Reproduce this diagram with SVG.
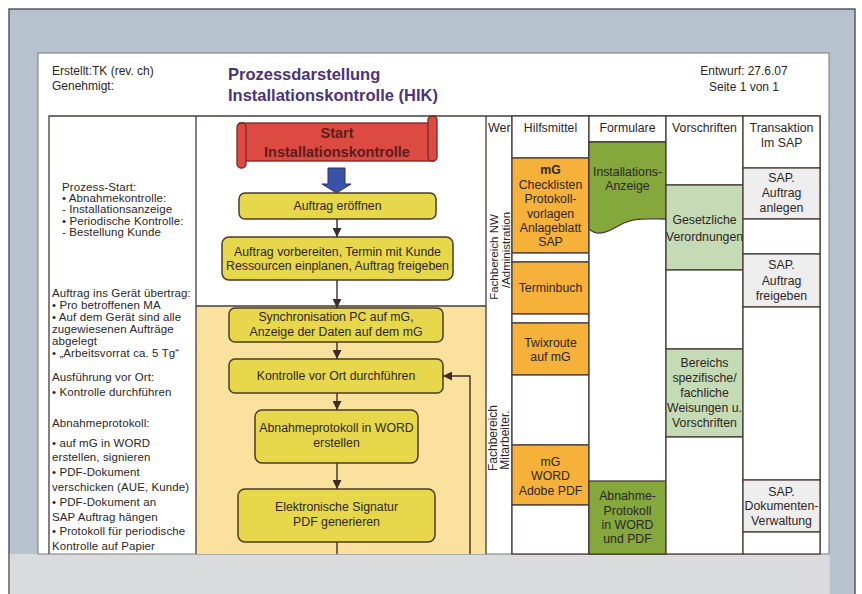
<svg xmlns="http://www.w3.org/2000/svg" width="862" height="594" viewBox="0 0 862 594">
<defs>
<marker id="ah" viewBox="0 0 10 10" refX="10" refY="5" markerWidth="9" markerHeight="9" markerUnits="userSpaceOnUse" orient="auto"><path d="M0,0 L10,5 L0,10 Z" fill="#3a2e2a"/></marker>
<style>
text{font-family:"Liberation Sans",Arial,sans-serif;fill:#2e2626}
.s12{font-size:12px}
.lt{font-size:11.5px;letter-spacing:0.1px}
.c{text-anchor:middle;font-size:12.3px}
.box{fill:#e6d84a;stroke:#4a3b28;stroke-width:1.5}
.cell{stroke:#4a3c38;stroke-width:1.3}
.wh{fill:#ffffff}
.or{fill:#f5b13a}
.gr{fill:#84a83c}
.lg{fill:#c5dbb5}
.gy{fill:#eeeeee}
.ln{stroke:#3a2e2a;stroke-width:1.4;fill:none}
.tl{stroke:#4a3c38;stroke-width:1.3;fill:none}
.rot{font-size:11.5px;text-anchor:middle}
</style>
</defs>
<!-- background frame -->
<rect x="0" y="0" width="862" height="594" fill="#ffffff"/>
<rect x="9" y="9" width="846" height="590" fill="#b6c3ce" stroke="#5a5a5a" stroke-width="1.5"/>
<rect x="9.8" y="554" width="820" height="40" fill="#d9dbdc"/>
<rect x="38" y="53" width="791" height="501" fill="#ffffff" stroke="#7a7a7a" stroke-width="1"/>

<!-- header -->
<g id="header">
<text class="s12" x="52" y="75">Erstellt:TK (rev. ch)</text>
<text class="s12" x="52" y="90">Genehmigt:</text>
<text x="228" y="80" style="font-size:16.5px;font-weight:bold;fill:#4b3478">Prozessdarstellung</text>
<text x="228" y="101" style="font-size:16.5px;font-weight:bold;fill:#4b3478">Installationskontrolle (HIK)</text>
<text class="s12" x="744" y="75" text-anchor="middle">Entwurf: 27.6.07</text>
<text class="s12" x="744" y="91" text-anchor="middle">Seite 1 von 1</text>
</g>

<!-- table frame -->
<g id="table">
<rect x="196" y="306" width="290" height="248" fill="#fbe19e"/>
<path class="tl" d="M49,554 V116 H820 V554 M196,116 V554 M486,116 V554 M512,116 V554 M196,306 H486"/>
</g>

<!-- left descriptions -->
<g id="left-text">
<text class="lt" x="62" y="191">Prozess-Start:</text>
<text class="lt" x="62" y="202">• Abnahmekontrolle:</text>
<text class="lt" x="62" y="213">- Installationsanzeige</text>
<text class="lt" x="62" y="225">• Periodische Kontrolle:</text>
<text class="lt" x="62" y="236">- Bestellung Kunde</text>
<text class="lt" x="52" y="297">Auftrag ins Gerät übertrag:</text>
<text class="lt" x="52" y="309">• Pro betroffenen MA</text>
<text class="lt" x="52" y="321">• Auf dem Gerät sind alle</text>
<text class="lt" x="52" y="333">zugewiesenen Aufträge</text>
<text class="lt" x="52" y="345">abgelegt</text>
<text class="lt" x="52" y="357">• „Arbeitsvorrat ca. 5 Tg“</text>
<text class="lt" x="52" y="381">Ausführung vor Ort:</text>
<text class="lt" x="52" y="396">• Kontrolle durchführen</text>
<text class="lt" x="52" y="427">Abnahmeprotokoll:</text>
<text class="lt" x="52" y="447">• auf mG in WORD</text>
<text class="lt" x="52" y="461">erstellen, signieren</text>
<text class="lt" x="52" y="476">• PDF-Dokument</text>
<text class="lt" x="52" y="491">verschicken (AUE, Kunde)</text>
<text class="lt" x="52" y="506">• PDF-Dokument an</text>
<text class="lt" x="52" y="521">SAP Auftrag hängen</text>
<text class="lt" x="52" y="535">• Protokoll für periodische</text>
<text class="lt" x="52" y="550">Kontrolle auf Papier</text>
</g>

<!-- flow nodes -->
<g id="start">
<rect x="240" y="123" width="194" height="38" fill="#dd4a42" stroke="#7a2424" stroke-width="1.3"/>
<rect x="428" y="116" width="9" height="45" rx="4" fill="#dd4a42" stroke="#7a2424" stroke-width="1.3"/>
<rect x="237" y="123" width="9" height="45" rx="4" fill="#dd4a42" stroke="#7a2424" stroke-width="1.3"/>
<text x="337" y="138" text-anchor="middle" style="font-size:14.5px;font-weight:bold;fill:#5c1d1d">Start</text>
<text x="337" y="157" text-anchor="middle" style="font-size:14.5px;font-weight:bold;fill:#5c1d1d">Installationskontrolle</text>
</g>
<g id="blue-arrow">
<polygon points="328,168 345,168 345,184 351,184 336.5,193 322,184 328,184" fill="#3a52a8" stroke="#2a3070" stroke-width="1"/>
</g>
<g id="n1">
<rect class="box" x="239" y="193" width="197" height="26" rx="6"/>
<text class="c" x="337.5" y="210">Auftrag eröffnen</text>
</g>
<g id="n2">
<rect class="box" x="222" y="237" width="231" height="43" rx="7"/>
<text class="c" x="337.5" y="256">Auftrag vorbereiten, Termin mit Kunde</text>
<text class="c" x="337.5" y="270">Ressourcen einplanen, Auftrag freigeben</text>
</g>
<g id="n3">
<rect class="box" x="229" y="308" width="214" height="34" rx="6"/>
<text class="c" x="336" y="321">Synchronisation PC auf mG,</text>
<text class="c" x="336" y="336">Anzeige der Daten auf dem mG</text>
</g>
<g id="n4">
<rect class="box" x="229" y="359" width="214" height="34" rx="6"/>
<text class="c" x="336" y="380">Kontrolle vor Ort durchführen</text>
</g>
<g id="n5">
<rect class="box" x="255" y="410" width="163" height="53" rx="7"/>
<text class="c" x="336.5" y="432">Abnahmeprotokoll in WORD</text>
<text class="c" x="336.5" y="447">erstellen</text>
</g>
<g id="n6">
<rect class="box" x="238" y="489" width="197" height="53" rx="7"/>
<text class="c" x="336.5" y="511">Elektronische Signatur</text>
<text class="c" x="336.5" y="526">PDF generieren</text>
</g>

<!-- connectors -->
<g id="connectors">
<line class="ln" x1="337" y1="219" x2="337" y2="237" marker-end="url(#ah)"/>
<line class="ln" x1="337" y1="280" x2="337" y2="308" marker-end="url(#ah)"/>
<line class="ln" x1="337" y1="342" x2="337" y2="359" marker-end="url(#ah)"/>
<line class="ln" x1="337" y1="393" x2="337" y2="410" marker-end="url(#ah)"/>
<line class="ln" x1="337" y1="463" x2="337" y2="489" marker-end="url(#ah)"/>
<line class="ln" x1="337" y1="542" x2="337" y2="554"/>
<polyline class="ln" points="470,554 470,376 443,376" marker-end="url(#ah)"/>
</g>

<!-- Wer column -->
<g id="wer">
<text x="488" y="132" style="font-size:12.5px">Wer</text>
<text class="rot" transform="translate(498,257) rotate(-90)">Fachbereich NW</text>
<text class="rot" transform="translate(510,250) rotate(-90)">/Administration</text>
<text class="rot" transform="translate(497,438) rotate(-90)" style="font-size:12px">Fachbereich</text>
<text class="rot" transform="translate(509,440) rotate(-90)" style="font-size:12px">Mitarbeiter.</text>
</g>

<!-- Hilfsmittel -->
<g id="hilfsmittel">
<rect class="cell wh" x="512" y="116" width="77" height="42"/>
<rect class="cell or" x="512" y="158" width="77" height="95"/>
<rect class="cell wh" x="512" y="253" width="77" height="9"/>
<rect class="cell or" x="512" y="262" width="77" height="52"/>
<rect class="cell wh" x="512" y="314" width="77" height="9"/>
<rect class="cell or" x="512" y="323" width="77" height="52"/>
<rect class="cell wh" x="512" y="375" width="77" height="70"/>
<rect class="cell or" x="512" y="445" width="77" height="60"/>
<rect class="cell wh" x="512" y="505" width="77" height="49"/>
<text class="c" x="550.5" y="132">Hilfsmittel</text>
<text class="c" x="550.5" y="174" style="font-weight:bold">mG</text>
<text class="c" x="550.5" y="189">Checklisten</text>
<text class="c" x="550.5" y="203">Protokoll-</text>
<text class="c" x="550.5" y="218">vorlagen</text>
<text class="c" x="550.5" y="232">Anlageblatt</text>
<text class="c" x="550.5" y="246">SAP</text>
<text class="c" x="550.5" y="292">Terminbuch</text>
<text class="c" x="550.5" y="347">Twixroute</text>
<text class="c" x="550.5" y="361">auf mG</text>
<text class="c" x="550.5" y="466">mG</text>
<text class="c" x="550.5" y="480">WORD</text>
<text class="c" x="550.5" y="495">Adobe PDF</text>
</g>

<!-- Formulare -->
<g id="formulare">
<rect class="cell wh" x="589" y="116" width="77" height="438"/>
<line class="tl" x1="589" y1="142" x2="666" y2="142"/>
<path d="M589,142 H666 V219 C648,219 634,217 620,225 C608,232 598,237 589,229 Z" fill="#84a83c" stroke="#4a3c38" stroke-width="1.3"/>
<rect class="cell gr" x="589" y="481" width="77" height="73"/>
<text class="c" x="627.5" y="132">Formulare</text>
<text class="c" x="627.5" y="176">Installations-</text>
<text class="c" x="627.5" y="190">Anzeige</text>
<text class="c" x="627.5" y="500">Abnahme-</text>
<text class="c" x="627.5" y="515">Protokoll</text>
<text class="c" x="627.5" y="529">in WORD</text>
<text class="c" x="627.5" y="543">und PDF</text>
</g>

<!-- Vorschriften -->
<g id="vorschriften">
<rect class="cell wh" x="666" y="116" width="77" height="69"/>
<rect class="cell lg" x="666" y="185" width="77" height="85"/>
<rect class="cell wh" x="666" y="270" width="77" height="79"/>
<rect class="cell lg" x="666" y="349" width="77" height="88"/>
<rect class="cell wh" x="666" y="437" width="77" height="117"/>
<text class="c" x="704.5" y="132">Vorschriften</text>
<text class="c" x="704.5" y="224">Gesetzliche</text>
<text class="c" x="704.5" y="241">Verordnungen</text>
<text class="c" x="704.5" y="367">Bereichs</text>
<text class="c" x="704.5" y="382">spezifische/</text>
<text class="c" x="704.5" y="397">fachliche</text>
<text class="c" x="704.5" y="412">Weisungen u.</text>
<text class="c" x="704.5" y="427">Vorschriften</text>
</g>

<!-- Transaktion im SAP -->
<g id="transaktion">
<rect class="cell wh" x="743" y="116" width="77" height="52"/>
<rect class="cell gy" x="743" y="168" width="77" height="51"/>
<rect class="cell wh" x="743" y="219" width="77" height="35"/>
<rect class="cell gy" x="743" y="254" width="77" height="53"/>
<rect class="cell wh" x="743" y="307" width="77" height="173"/>
<rect class="cell gy" x="743" y="480" width="77" height="52"/>
<rect class="cell wh" x="743" y="532" width="77" height="22"/>
<text class="c" x="781.5" y="132">Transaktion</text>
<text class="c" x="781.5" y="147">Im SAP</text>
<text class="c" x="781.5" y="182">SAP.</text>
<text class="c" x="781.5" y="197">Auftrag</text>
<text class="c" x="781.5" y="212">anlegen</text>
<text class="c" x="781.5" y="269">SAP.</text>
<text class="c" x="781.5" y="285">Auftrag</text>
<text class="c" x="781.5" y="300">freigeben</text>
<text class="c" x="781.5" y="496">SAP.</text>
<text class="c" x="781.5" y="510">Dokumenten-</text>
<text class="c" x="781.5" y="525">Verwaltung</text>
</g>
</svg>
